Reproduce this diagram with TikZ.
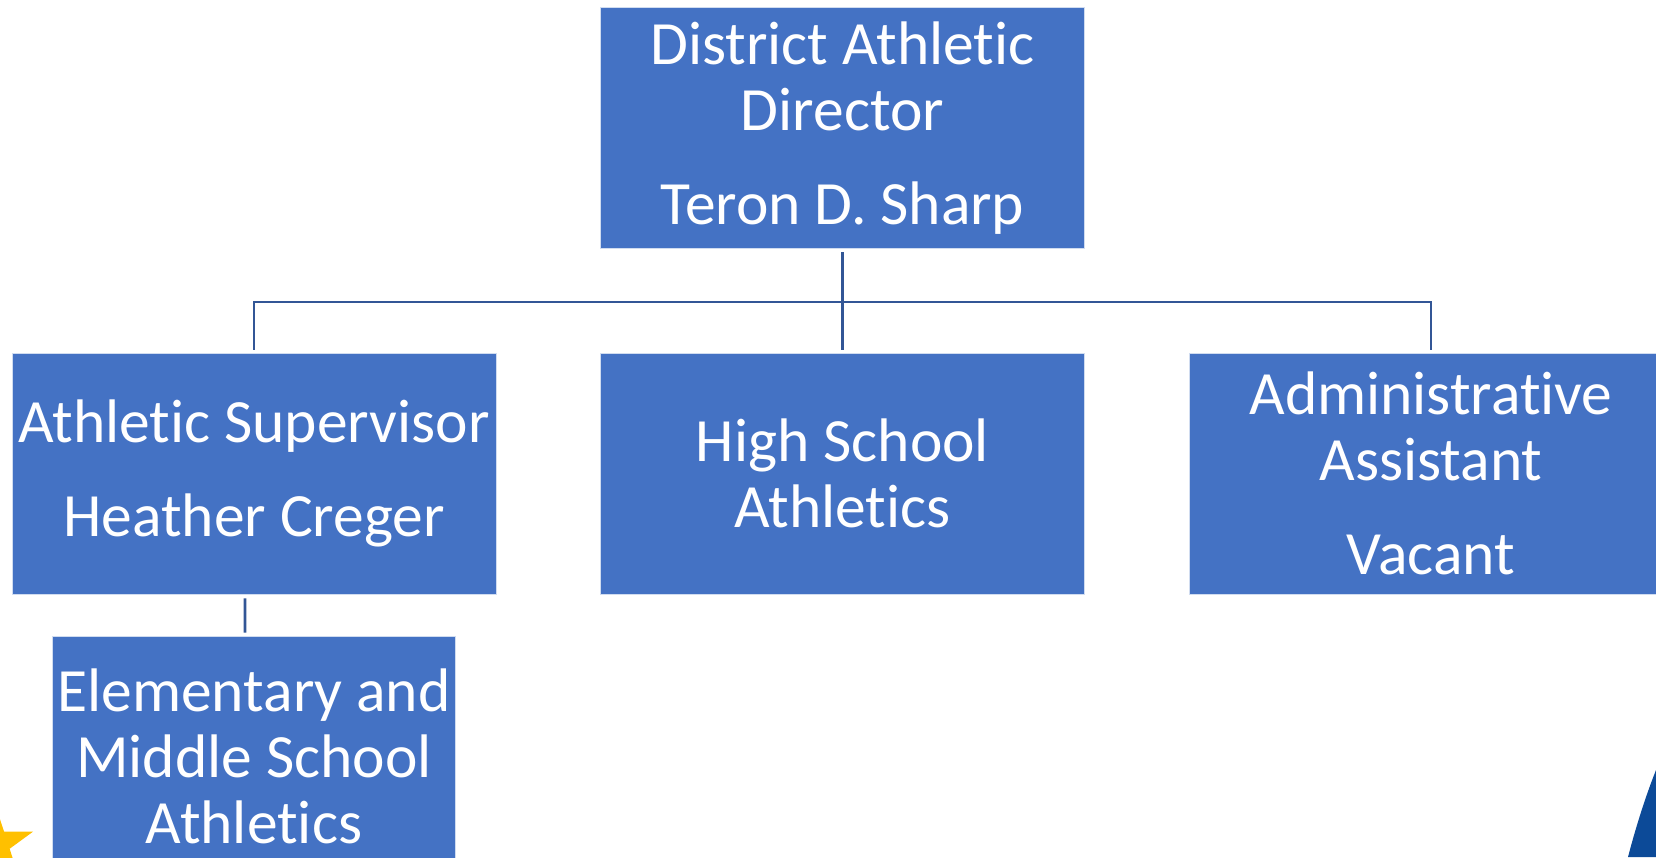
\documentclass[tikz,border=0pt]{standalone}
\usepackage{fontspec}
\setmainfont{Carlito}[Ligatures=NoCommon]
\usetikzlibrary{shapes.geometric}

\definecolor{boxblue}{RGB}{68,114,196}
\definecolor{linkblue}{RGB}{50,86,150}
\definecolor{staryellow}{RGB}{255,192,0}
\definecolor{logoblue}{RGB}{12,74,152}

\begin{document}
\begin{tikzpicture}[level distance=6.91cm,
  level 1/.style={sibling distance=11.77cm,
    edge from parent path={(\tikzparentnode.south) ++(0,-0.07) -- ++(0,-0.99)
      -| ([yshift=0.06cm]\tikzchildnode.north)}},
  level 2/.style={level distance=5.66cm,
    edge from parent path={([xshift=-0.18cm,yshift=-0.08cm]\tikzparentnode.south)
      -- ([xshift=-0.18cm,yshift=0.06cm]\tikzchildnode.north)}},
  edge from parent/.style={draw=linkblue, line width=1.5pt},
  unit/.style={fill=boxblue, draw=white!75!boxblue, line width=0.5pt, text=white,
    font=\fontsize{35}{37.5}\selectfont, align=center, inner sep=0pt,
    minimum width=9.68cm, minimum height=4.82cm}]
  \useasboundingbox (0,0) rectangle (33.12,-17.14);
  \node[unit] (director) at (16.85,-2.56) {District Athletic\\Director\\[0.56cm]Teron D. Sharp}
    child { node[unit] (supervisor) {Athletic Supervisor\\[0.56cm]Heather Creger}
      child { node[unit, minimum width=8.06cm] (elementary) {Elementary and\\Middle School\\Athletics} } }
    child { node[unit] (highschool) {High School\\Athletics} }
    child { node[unit] (assistant) {Administrative\\Assistant\\[0.56cm]Vacant} };
  % corner decorations
  \node[star, star points=5, star point ratio=2.6, fill=staryellow,
    minimum size=1.6cm, inner sep=0pt] (star) at (-0.1,-16.88) {};
  \fill[logoblue] (32.56,-17.14) .. controls (32.7,-16.6) and (32.9,-15.95) .. (33.12,-15.4)
    -- (33.12,-17.14) -- cycle;
\end{tikzpicture}
\end{document}
